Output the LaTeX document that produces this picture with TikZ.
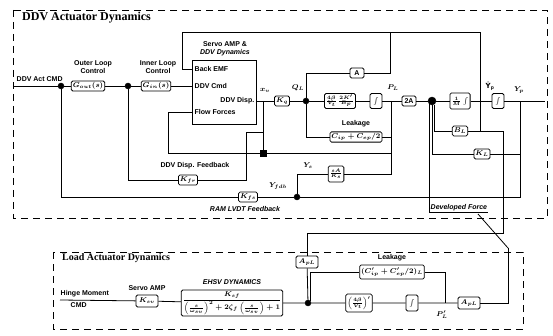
\documentclass[tikz,border=0pt]{standalone}
\usepackage{fontspec}
\setmainfont{Liberation Sans}
\newfontfamily\ttlfont{Liberation Serif}
\newfontfamily\djvfont{DejaVu Sans}
\usepackage{amsmath}
\usetikzlibrary{positioning,calc}
\tikzset{
    blk/.style={
        draw,thick,rounded corners=1.5pt,
        fill=white,
        inner sep=1.5pt,minimum height=10pt,minimum width=14pt,
        font=\bfseries\boldmath\fontsize{7}{8}\selectfont
    },
    lbl/.style={inner sep=0.5pt,font=\bfseries\boldmath\fontsize{7}{8}\selectfont},
    ilbl/.style={inner sep=0.5pt,font=\bfseries\itshape\fontsize{7}{8}\selectfont},
    sumdot/.style={circle,draw,fill,inner sep=0pt,minimum size=6pt},
    sqdot/.style={rectangle,draw,fill,inner sep=0pt,minimum size=6pt},
    frame/.style={thick,dash pattern=on 7pt off 5pt},
    wire/.style={thick}
}
\begin{document}
\begin{tikzpicture}[x=1pt,y=-1pt]
\useasboundingbox (0,0) rectangle (553,336);
% frames and titles
\draw[frame] (13,10) rectangle (547,218);
\draw[frame] (53,252) rectangle (523,329);
\node[anchor=west,inner sep=0pt,font=\ttlfont\bfseries\fontsize{12}{13}\selectfont] (ttl1) at (22,18) {DDV Actuator Dynamics};
\node[anchor=west,inner sep=0pt,font=\ttlfont\bfseries\fontsize{10}{12}\selectfont] (ttl2) at (62,258) {Load Actuator Dynamics};

% DDV command path
\coordinate (cmdin) at (13,86);
\node[lbl,anchor=south west] (cmdlbl) at (16,82) {DDV Act CMD};
\node[sumdot] (j1) at (61,86) {};
\node[blk,minimum width=22pt] (gout) at (88,86) {$G_{out}(s)$};
\node[lbl,align=center] (goutlbl) at (93,67) {Outer Loop\\Control};
\node[sumdot] (j2) at (128,86) {};
\node[blk,minimum width=22pt] (gin) at (156,86) {$G_{in}(s)$};
\node[lbl,align=center] (ginlbl) at (158,67) {Inner Loop\\Control};

% servo amp and DDV
\node[draw,thick,minimum width=64pt,minimum height=64pt,inner sep=0pt] (servo) at (224,92) {};
\node[lbl,align=center] (servolbl) at (225,49) {Servo AMP \&\\\itshape DDV Dynamics};
\node[lbl,anchor=west] (bemf) at (194,69) {Back EMF};
\node[lbl,anchor=west] (ddvcmd) at (194,86) {DDV Cmd};
\node[lbl,anchor=east] (ddvdisp) at (255,101) {DDV Disp.};
\node[lbl,anchor=west] (flow) at (194,112) {Flow Forces};
\node[lbl] (xvlbl) at (265,90) {$x_v$};

% hydraulic forward path
\coordinate (xv) at (263,101);
\node[blk] (kq) at (282,101) {$K_q$};
\node[sumdot] (ql) at (306,101) {};
\node[lbl] (qllbl) at (298,88) {$Q_L$};
\node[blk,minimum height=15pt] (fwd) at (340,101) {$\frac{4\beta}{V_t}\,\frac{2K'}{B_p}$};
\node[blk,minimum height=15pt,minimum width=12pt] (int1) at (376,101) {$\int$};
\coordinate (pl) at (391,101);
\node[lbl] (pllbl) at (393,88) {$P_L$};
\node[blk] (twoa) at (409,101) {2A};
\node[sumdot,minimum size=8pt] (sm) at (432,101) {};
\node[blk,minimum height=16pt] (mint) at (460,101) {$\frac{1}{M}\int$};
\coordinate (vel) at (480,101);
\node[lbl] (vellbl) at (490,86) {{\djvfont\bfseries Ẏ}\textsubscript{p}};
\node[blk,minimum height=15pt,minimum width=12pt] (int2) at (498,101) {$\int$};
\coordinate (pos) at (520,101);
\node[lbl] (poslbl) at (519,90) {$Y_p$};
\coordinate (out) at (545,101);

\node[blk] (abox) at (357,73) {A};
\node[blk] (leak) at (356,137) {$C_{ip}+C_{ep}/2$};
\node[lbl] (leaklbl) at (356,124) {Leakage};
\node[blk,minimum height=16pt] (sabox) at (336,174) {$\frac{sA}{K_s}$};
\node[lbl] (yslbl) at (308,166) {$Y_s$};
\node[blk] (bl) at (460,131) {$B_L$};
\node[blk] (kl) at (482,154) {$K_L$};

% feedback nodes
\node[sqdot] (sqj) at (263,153) {};
\node[blk] (kfr) at (188,180) {$K_{fr}$};
\node[lbl] (kfrlbl) at (195,166) {DDV Disp. Feedback};
\node[blk] (kfs) at (248,197) {$K_{fs}$};
\node[sumdot] (yfb) at (297,197) {};
\node[lbl] (yfblbl) at (278,186) {$Y_{fdb}$};
\node[ilbl] (lvdtlbl) at (245,209) {RAM LVDT Feedback};
\node[ilbl,anchor=south west] (dflbl) at (430,212) {Developed Force};

\coordinate (ff) at (391,153);
\coordinate (ys) at (391,174);
\coordinate (atop) at (390,32);
\coordinate (velt) at (480,32);
\coordinate (velm) at (480,131);
\coordinate (bemfc) at (182,32);
\coordinate (flowc) at (168,153);
\coordinate (dfb) at (263,132);
\coordinate (dfbc) at (246,132);
\coordinate (posb) at (520,197);
\coordinate (velb) at (503,131);
\coordinate (velc) at (503,233);
\coordinate (df1) at (478,214);
\coordinate (df2) at (508,248);

% lower actuator
\coordinate (hmin) at (60,300);
\node[lbl,anchor=south west] (hmlbl) at (60,298) {Hinge Moment};
\node[lbl,anchor=north west] (cmdlbl2) at (70,302) {CMD};
\node[blk,minimum width=22pt,minimum height=12pt] (ksv) at (147,301) {$K_{sv}$};
\node[lbl] (ksvlbl) at (147,288) {Servo AMP};
\node[blk,minimum width=99pt,minimum height=26pt] (ehsv) at (232,303)
    {$\dfrac{K_{sf}}{\left(\frac{s}{\omega_{sv}}\right)^2+2\zeta_f\left(\frac{s}{\omega_{sv}}\right)+1}$};
\node[ilbl] (ehsvlbl) at (232,282) {EHSV DYNAMICS};
\node[sumdot] (j3) at (308,303) {};
\node[blk,minimum width=22pt,minimum height=12pt] (apl1) at (307,262) {$A_{pL}$};
\node[blk,minimum height=14pt] (leak2) at (392,272) {$(C_{ip}'+C_{ep}'/2)_L$};
\node[lbl] (leak2lbl) at (392,258) {Leakage};
\node[blk,minimum height=18pt] (fwd2) at (359,303) {$\left(\frac{4\beta}{V_t}\right)'$};
\node[blk,minimum height=16pt,minimum width=12pt] (int3) at (412,303) {$\int$};
\coordinate (plp) at (445,303);
\node[lbl] (plplbl) at (442,315) {$P_L'$};
\node[blk,minimum width=22pt,minimum height=12pt] (apl2) at (469,303) {$A_{pL}$};

% connectors, upper
\draw[wire] (cmdin) -- (j1) -- (gout) -- (j2) -- (gin) -- (servo.west |- gin);
\draw[wire] (servo.west |- bemf) -| (bemfc) -- (velt) -- (velm);
\draw[wire] (servo.east |- xv) -- (kq) -- (ql) -- (fwd) -- (int1) -- (twoa) -- (sm) -- (mint) -- (int2) -- (out);
\draw[wire] (ql) |- (abox);
\draw[wire] (abox) -| (atop);
\draw[wire] (ql) |- (leak);
\draw[wire] (leak) -| (pl);
\draw[wire] (pl) -- (ys) -- (sabox);
\draw[wire] (ff) -- (sqj) -- (flowc) |- (servo.west |- flow);
\draw[wire] (xv) -- (sqj);
\draw[wire] (dfb) -- (dfbc) |- (kfr);
\draw[wire] (kfr) -| (j2);
\draw[wire] (j1) |- (kfs);
\draw[wire] (kfs) -- (yfb) -- (posb) -- (pos);
\draw[wire] (sabox) -| (yfb);
\draw[wire] (bl) -- (velb) -- (velc) -| (apl1);
\draw[wire] (bl) -| (sm.-60);
\draw[wire] (kl) -- (kl -| pos);
\draw[wire] (kl) -| (sm.south);
\draw[wire] (sm.-125) |- (dflbl.south east);
\draw[wire] (df1) -- (df2);

% connectors, lower
\draw[wire] (hmin) -- (ksv) -- (ehsv) -- (j3) -- (fwd2) -- (int3) -- (apl2);
\draw[wire] (apl1) -- (j3);
\draw[wire] (j3.45) |- (leak2);
\draw[wire] (leak2) -| (plp);
\draw[wire] (apl2) -| (df2);
\end{tikzpicture}
\end{document}
